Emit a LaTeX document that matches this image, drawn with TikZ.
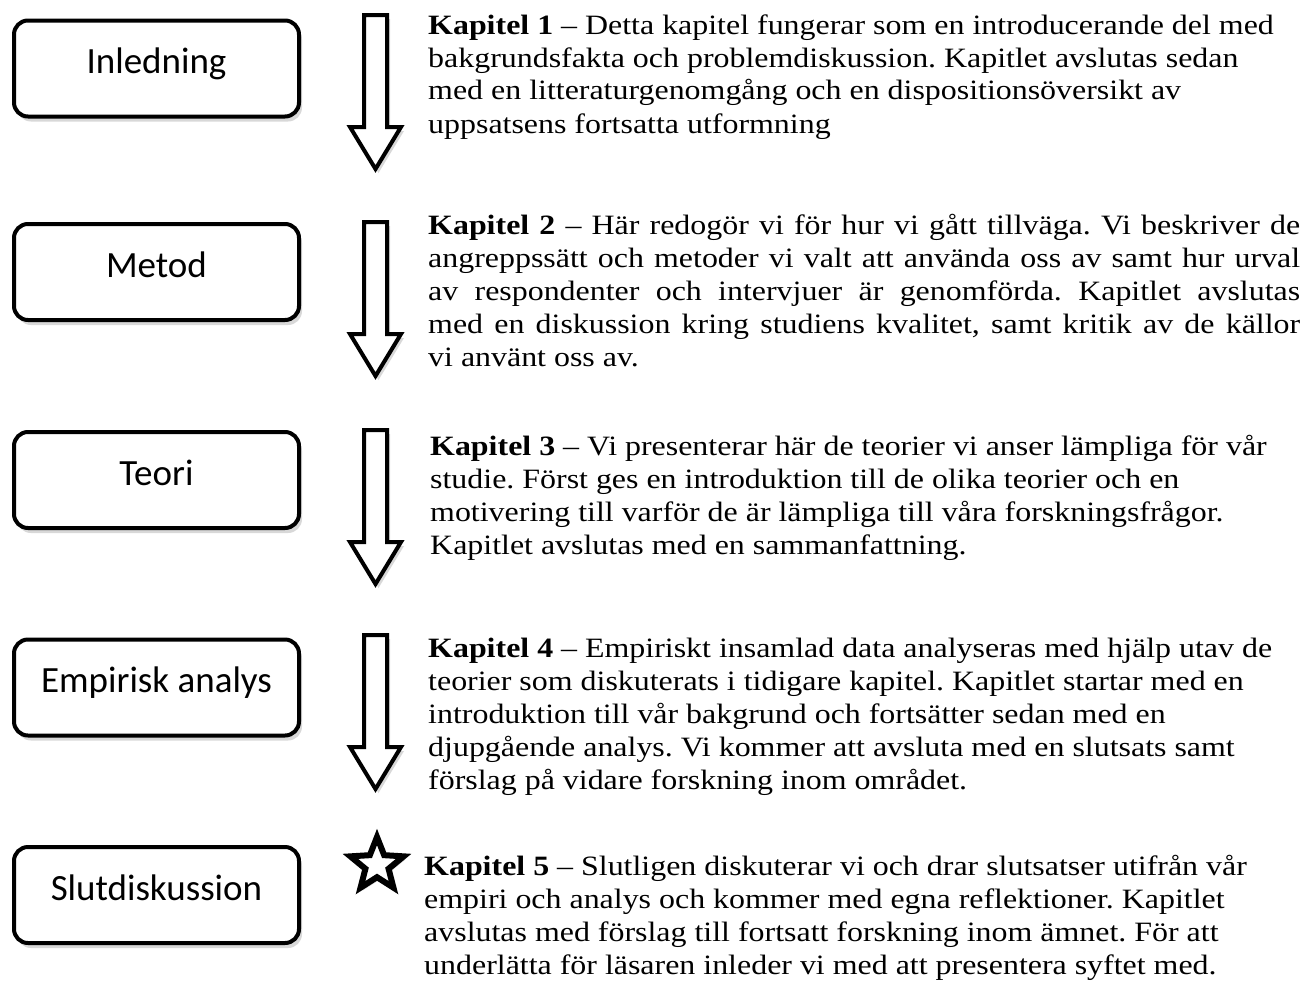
\documentclass[tikz,border=0pt]{standalone}
\usepackage{fontspec}
\setmainfont{Liberation Serif}[FakeStretch=1.14]
\newfontfamily\boxfont{Carlito}
\usetikzlibrary{shadows,shapes.geometric}

\tikzset{
  chapbox/.style={draw=black, line width=4pt, rounded corners=14pt, fill=white,
    minimum width=285pt, minimum height=96pt, inner sep=0pt,
    font=\boxfont\fontsize{37}{44}\selectfont, text height=30pt, text depth=20pt,
    drop shadow={shadow xshift=3pt, shadow yshift=-5pt, opacity=0.3}},
  downarrow/.style={draw=black, line width=4pt, fill=white, line join=miter,
    drop shadow={shadow xshift=3pt, shadow yshift=-4pt, opacity=0.3}},
  starmark/.style={star, star points=5, star point ratio=2.3, minimum size=56pt,
    inner sep=0pt, draw=black, line width=6pt, fill=white, line join=miter,
    drop shadow={shadow xshift=2pt, shadow yshift=-3pt, opacity=0.3}},
  desc/.style={anchor=base west, inner sep=0pt, font=\fontsize{28}{33}\selectfont}
}

\begin{document}
\begin{tikzpicture}[x=1pt,y=-1pt]
\useasboundingbox[fill=white] (0,0) rectangle (1303,993);
\frenchspacing

\node[chapbox] (b1) at (156.5,68.5) {Inledning};
\node[chapbox] (b2) at (156.5,272) {Metod};
\node[chapbox] (b3) at (156.5,480) {Teori};
\node[chapbox] (b4) at (156.5,687.5) {Empirisk analys};
\node[chapbox] (b5) at (156.5,895) {Slutdiskussion};

\foreach \y in {15,222,430,635}{
  \draw[downarrow] (364,\y) -- (387,\y) -- (387,\y+112) -- (401,\y+112)
    -- (375.5,\y+154) -- (350,\y+112) -- (364,\y+112) -- cycle;
}

\node[starmark] (st) at (377,865) {};

\node[desc] (t1) at (428,34) {\begin{minipage}[t]{880pt}\raggedright\frenchspacing
\textbf{Kapitel 1} – Detta kapitel fungerar som en introducerande del med\\
bakgrundsfakta och problemdiskussion. Kapitlet avslutas sedan\\
med en litteraturgenomgång och en dispositionsöversikt av\\
uppsatsens fortsatta utformning
\end{minipage}};

\node[desc] (t2) at (428,234) {\begin{minipage}[t]{880pt}\raggedright\frenchspacing
\makebox[872pt][s]{\textbf{Kapitel 2} – Här redogör vi för hur vi gått tillväga. Vi beskriver de}\\
\makebox[872pt][s]{angreppssätt och metoder vi valt att använda oss av samt hur urval}\\
\makebox[872pt][s]{av respondenter och intervjuer är genomförda. Kapitlet avslutas}\\
\makebox[872pt][s]{med en diskussion kring studiens kvalitet, samt kritik av de källor}\\
vi använt oss av.
\end{minipage}};

\node[desc] (t3) at (430,455) {\begin{minipage}[t]{880pt}\raggedright\frenchspacing
\textbf{Kapitel 3} – Vi presenterar här de teorier vi anser lämpliga för vår\\
studie. Först ges en introduktion till de olika teorier och en\\
motivering till varför de är lämpliga till våra forskningsfrågor.\\
Kapitlet avslutas med en sammanfattning.
\end{minipage}};

\node[desc] (t4) at (428,657) {\begin{minipage}[t]{880pt}\raggedright\frenchspacing
\textbf{Kapitel 4} – Empiriskt insamlad data analyseras med hjälp utav de\\
teorier som diskuterats i tidigare kapitel. Kapitlet startar med en\\
introduktion till vår bakgrund och fortsätter sedan med en\\
djupgående analys. Vi kommer att avsluta med en slutsats samt\\
förslag på vidare forskning inom området.
\end{minipage}};

\node[desc] (t5) at (424,875) {\begin{minipage}[t]{880pt}\raggedright\frenchspacing
\textbf{Kapitel 5} – Slutligen diskuterar vi och drar slutsatser utifrån vår\\
empiri och analys och kommer med egna reflektioner. Kapitlet\\
avslutas med förslag till fortsatt forskning inom ämnet. För att\\
underlätta för läsaren inleder vi med att presentera syftet med.
\end{minipage}};
\end{tikzpicture}
\end{document}
